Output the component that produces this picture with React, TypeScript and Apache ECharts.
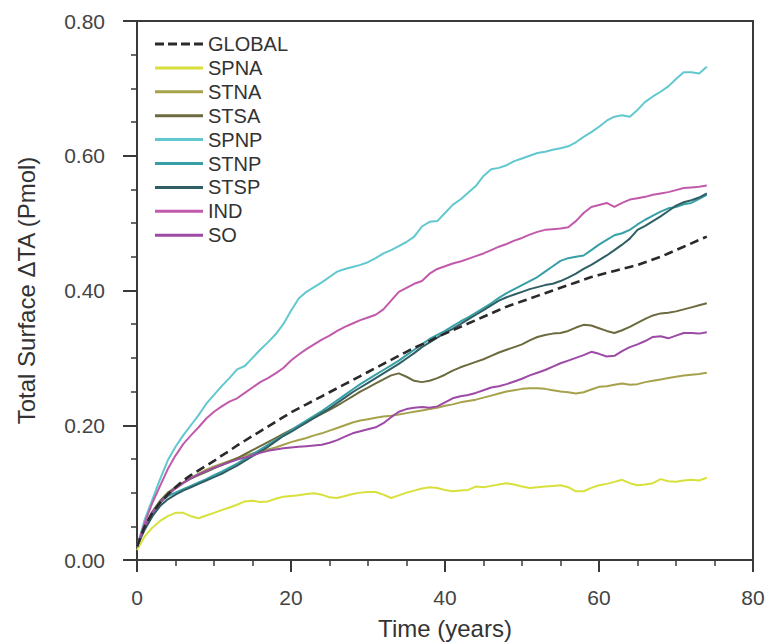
import React, { useEffect, useRef } from "react";
import * as echarts from "echarts";

// Annual values, years 0..74 (one entry per year)
const GLOBAL = [0.02, 0.05, 0.07, 0.085, 0.097, 0.108, 0.118, 0.126, 0.133, 0.14, 0.147, 0.155, 0.162, 0.17, 0.177, 0.184, 0.191, 0.198, 0.205, 0.212, 0.219, 0.225, 0.231, 0.237, 0.243, 0.249, 0.255, 0.261, 0.267, 0.273, 0.279, 0.285, 0.291, 0.297, 0.303, 0.309, 0.315, 0.32, 0.325, 0.331, 0.336, 0.341, 0.346, 0.351, 0.356, 0.361, 0.366, 0.371, 0.376, 0.38, 0.384, 0.388, 0.392, 0.396, 0.4, 0.404, 0.408, 0.412, 0.416, 0.42, 0.423, 0.426, 0.429, 0.432, 0.435, 0.438, 0.442, 0.446, 0.45, 0.455, 0.46, 0.465, 0.47, 0.475, 0.48];
const SPNA = [0.015, 0.035, 0.048, 0.058, 0.065, 0.07, 0.07, 0.065, 0.062, 0.066, 0.07, 0.074, 0.078, 0.082, 0.087, 0.088, 0.086, 0.087, 0.091, 0.094, 0.095, 0.096, 0.098, 0.099, 0.097, 0.093, 0.092, 0.095, 0.098, 0.1, 0.101, 0.101, 0.097, 0.092, 0.096, 0.1, 0.103, 0.106, 0.108, 0.107, 0.104, 0.102, 0.103, 0.104, 0.109, 0.108, 0.11, 0.112, 0.114, 0.112, 0.109, 0.107, 0.108, 0.109, 0.11, 0.111, 0.108, 0.102, 0.102, 0.107, 0.111, 0.113, 0.116, 0.119, 0.114, 0.111, 0.112, 0.114, 0.12, 0.117, 0.116, 0.118, 0.119, 0.118, 0.122];
const STNA = [0.02, 0.05, 0.07, 0.085, 0.097, 0.107, 0.115, 0.122, 0.128, 0.134, 0.139, 0.143, 0.147, 0.151, 0.155, 0.158, 0.161, 0.164, 0.167, 0.171, 0.175, 0.178, 0.181, 0.185, 0.188, 0.192, 0.196, 0.2, 0.204, 0.207, 0.209, 0.211, 0.213, 0.214, 0.216, 0.218, 0.22, 0.222, 0.224, 0.226, 0.229, 0.231, 0.234, 0.236, 0.238, 0.241, 0.244, 0.247, 0.25, 0.252, 0.254, 0.255, 0.255, 0.254, 0.252, 0.25, 0.249, 0.247, 0.249, 0.253, 0.257, 0.258, 0.26, 0.262, 0.26, 0.261, 0.264, 0.266, 0.268, 0.27, 0.272, 0.274, 0.275, 0.276, 0.278];
const STSA = [0.02, 0.05, 0.072, 0.088, 0.1, 0.108, 0.115, 0.121, 0.126, 0.131, 0.136, 0.141, 0.146, 0.151, 0.157, 0.163, 0.169, 0.175, 0.181, 0.187, 0.193, 0.199, 0.205, 0.211, 0.217, 0.223, 0.229, 0.236, 0.243, 0.25, 0.256, 0.262, 0.268, 0.274, 0.277, 0.272, 0.266, 0.264, 0.266, 0.27, 0.275, 0.281, 0.286, 0.29, 0.294, 0.298, 0.303, 0.308, 0.312, 0.316, 0.32, 0.326, 0.331, 0.334, 0.336, 0.337, 0.34, 0.345, 0.349, 0.348, 0.344, 0.34, 0.337, 0.341, 0.346, 0.352, 0.358, 0.363, 0.366, 0.367, 0.369, 0.372, 0.375, 0.378, 0.381];
const SPNP = [0.02, 0.06, 0.09, 0.12, 0.148, 0.168, 0.185, 0.2, 0.215, 0.232, 0.245, 0.258, 0.27, 0.283, 0.288, 0.3, 0.312, 0.323, 0.335, 0.35, 0.37, 0.388, 0.398, 0.405, 0.412, 0.42, 0.428, 0.432, 0.435, 0.438, 0.442, 0.448, 0.455, 0.46, 0.466, 0.472, 0.48, 0.495, 0.502, 0.503, 0.515, 0.527, 0.535, 0.545, 0.555, 0.57, 0.58, 0.582, 0.586, 0.592, 0.596, 0.6, 0.604, 0.606, 0.609, 0.611, 0.614, 0.62, 0.628, 0.635, 0.643, 0.652, 0.658, 0.66, 0.658, 0.668, 0.68, 0.688, 0.695, 0.703, 0.714, 0.724, 0.724, 0.722, 0.732];
const STNP = [0.02, 0.05, 0.07, 0.085, 0.095, 0.1, 0.105, 0.11, 0.115, 0.12, 0.126, 0.131, 0.137, 0.143, 0.15, 0.157, 0.164, 0.171, 0.178, 0.185, 0.192, 0.2, 0.207, 0.214, 0.221, 0.229, 0.237, 0.245, 0.253, 0.261, 0.268, 0.275, 0.282, 0.289, 0.296, 0.304, 0.312, 0.32, 0.328, 0.334, 0.34, 0.347, 0.354, 0.36, 0.367, 0.374, 0.381, 0.389, 0.396, 0.402, 0.408, 0.414, 0.42, 0.428, 0.436, 0.444, 0.448, 0.45, 0.452, 0.46, 0.468, 0.475, 0.482, 0.485, 0.49, 0.498, 0.505, 0.511, 0.517, 0.522, 0.524, 0.528, 0.53, 0.536, 0.542];
const STSP = [0.02, 0.045, 0.065, 0.08, 0.09, 0.097, 0.103, 0.108, 0.113, 0.118, 0.123, 0.128, 0.134, 0.14, 0.147, 0.154, 0.161, 0.168, 0.176, 0.184, 0.19, 0.197, 0.204, 0.211, 0.218, 0.225, 0.233, 0.241, 0.249, 0.256, 0.263, 0.27, 0.277, 0.284, 0.291, 0.299, 0.307, 0.316, 0.323, 0.33, 0.337, 0.343, 0.35, 0.357, 0.364, 0.371, 0.378, 0.385, 0.39, 0.394, 0.398, 0.402, 0.405, 0.408, 0.41, 0.414, 0.419, 0.425, 0.432, 0.438, 0.445, 0.452, 0.46, 0.468, 0.477, 0.49, 0.496, 0.503, 0.51, 0.518, 0.526, 0.531, 0.534, 0.538, 0.544];
const IND = [0.02, 0.055, 0.085, 0.11, 0.135, 0.155, 0.172, 0.185, 0.197, 0.21, 0.22, 0.228, 0.235, 0.24, 0.248, 0.256, 0.264, 0.27, 0.277, 0.285, 0.296, 0.305, 0.313, 0.32, 0.327, 0.333, 0.34, 0.346, 0.351, 0.356, 0.36, 0.364, 0.372, 0.385, 0.398, 0.404, 0.41, 0.414, 0.425, 0.432, 0.436, 0.44, 0.443, 0.447, 0.451, 0.455, 0.46, 0.465, 0.469, 0.474, 0.478, 0.483, 0.487, 0.49, 0.491, 0.492, 0.494, 0.503, 0.515, 0.524, 0.527, 0.53, 0.524, 0.53, 0.535, 0.537, 0.539, 0.542, 0.544, 0.546, 0.549, 0.552, 0.553, 0.554, 0.556];
const SO = [0.02, 0.05, 0.07, 0.085, 0.097, 0.106, 0.114, 0.121, 0.127, 0.132, 0.137, 0.141, 0.145, 0.149, 0.152, 0.155, 0.159, 0.162, 0.164, 0.166, 0.167, 0.168, 0.169, 0.17, 0.171, 0.174, 0.178, 0.183, 0.188, 0.191, 0.194, 0.197, 0.203, 0.212, 0.22, 0.224, 0.226, 0.227, 0.226, 0.228, 0.234, 0.24, 0.243, 0.245, 0.248, 0.252, 0.256, 0.258, 0.261, 0.265, 0.269, 0.274, 0.278, 0.282, 0.287, 0.292, 0.296, 0.3, 0.304, 0.309, 0.306, 0.302, 0.303, 0.31, 0.316, 0.32, 0.325, 0.331, 0.332, 0.329, 0.333, 0.337, 0.337, 0.336, 0.338];

const SERIES_NAMES = ["GLOBAL", "SPNA", "STNA", "STSA", "SPNP", "STNP", "STSP", "IND", "SO"];
const SERIES_VALUES = [GLOBAL, SPNA, STNA, STSA, SPNP, STNP, STSP, IND, SO];
const SERIES_COLORS = ["#2a2a2a", "#d8e03c", "#a6a24c", "#6c6a3e", "#62c8cf", "#37a0a6", "#2f5f64", "#c25aac", "#9d4aa6"];

const X_TICKS = [0, 20, 40, 60, 80];
const Y_TICKS = [0, 0.2, 0.4, 0.6, 0.8];

// Legend swatches: a plain bar, and a bar broken into dashes for the global mean
const SOLID_ICON = "path://M0,0H48V3H0Z";
const DASHED_ICON = "path://M0,0H9V3H0Z M13,0H22V3H13Z M26,0H35V3H26Z M39,0H48V3H39Z";

export default function App() {
  const ref = useRef<HTMLDivElement>(null);

  useEffect(() => {
    if (!ref.current) return;
    const chart = echarts.init(ref.current, null, { renderer: "svg" });
    const font = "Liberation Sans, Arial, Helvetica, sans-serif";

    const series = SERIES_NAMES.map((name, k) => ({
      name,
      type: "line",
      showSymbol: false,
      symbol: "none",
      z: name === "GLOBAL" ? 5 : 2,
      data: SERIES_VALUES[k].map((v, year) => [year, v]),
      lineStyle: {
        color: SERIES_COLORS[k],
        width: name === "GLOBAL" ? 2.6 : 2,
        type: name === "GLOBAL" ? [9, 5] : "solid",
      },
      itemStyle: { color: SERIES_COLORS[k] },
    }));

    chart.setOption({
      animation: false,
      backgroundColor: "#ffffff",
      textStyle: { fontFamily: font },
      grid: {
        left: 137,
        right: 16,
        top: 21,
        bottom: 84,
        outerBoundsMode: "none",
        containLabel: false,
        show: true,
        borderColor: "#3a3a3a",
        borderWidth: 2,
        backgroundColor: "transparent",
      },
      legend: {
        orient: "vertical",
        left: 150,
        top: 29,
        itemWidth: 48,
        itemHeight: 3,
        itemGap: 3.9,
        data: SERIES_NAMES.map((name, k) => ({
          name,
          icon: name === "GLOBAL" ? DASHED_ICON : SOLID_ICON,
          itemStyle: { color: SERIES_COLORS[k], borderWidth: 0 },
        })),
        textStyle: {
          fontFamily: font,
          fontSize: 20,
          lineHeight: 20,
          color: "#333333",
          padding: [0, 0, 0, 0],
        },
      },
      xAxis: {
        type: "value",
        min: X_TICKS[0],
        max: X_TICKS[X_TICKS.length - 1],
        interval: 20,
        name: "Time (years)",
        nameLocation: "middle",
        nameGap: 55,
        nameTextStyle: { fontFamily: font, fontSize: 24, lineHeight: 26, color: "#333333" },
        axisLine: { show: true, lineStyle: { color: "#3a3a3a", width: 2 } },
        axisTick: { show: true, inside: false, length: 12, lineStyle: { color: "#3a3a3a", width: 2 } },
        minorTick: { show: true, splitNumber: 4, length: 6, lineStyle: { color: "#3a3a3a", width: 1.5 } },
        splitLine: { show: false },
        axisLabel: { fontFamily: font, fontSize: 21, color: "#444444", margin: 27 },
      },
      yAxis: {
        type: "value",
        min: Y_TICKS[0],
        max: Y_TICKS[Y_TICKS.length - 1],
        interval: 0.2,
        name: "Total Surface \u0394TA (Pmol)",
        nameLocation: "middle",
        nameGap: 99,
        nameTextStyle: { fontFamily: font, fontSize: 24, color: "#333333" },
        axisLine: { show: true, lineStyle: { color: "#3a3a3a", width: 2 } },
        axisTick: { show: true, inside: false, length: 14, lineStyle: { color: "#3a3a3a", width: 2 } },
        minorTick: { show: true, splitNumber: 4, length: 6, lineStyle: { color: "#3a3a3a", width: 1.5 } },
        splitLine: { show: false },
        axisLabel: {
          fontFamily: font,
          fontSize: 21,
          color: "#444444",
          margin: 32,
          formatter: (v: number) => v.toFixed(2),
        },
      },
      series,
    });

    return () => chart.dispose();
  }, []);

  return (
    <div
      ref={ref}
      style={{ position: "fixed", left: 0, top: 0, width: 769, height: 644, background: "#fff" }}
    />
  );
}
